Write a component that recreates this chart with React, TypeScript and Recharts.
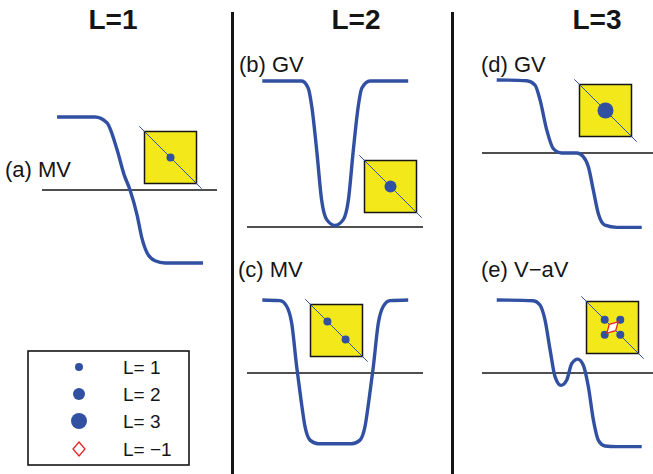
import {
  ComposedChart,
  ScatterChart,
  Line,
  Scatter,
  XAxis,
  YAxis,
  ReferenceLine,
  ReferenceArea,
} from 'recharts'

const BLUE = '#3150a2'
const YELLOW = '#f2e81a'
const RED = '#e42323'
const INK = '#151515'
const FONT = '"Liberation Sans", Arial, Helvetica, sans-serif'

// potential profiles, x in arbitrary units (0..10), V relative to the zero line
const mvAx = [0.86, 3.03, 3.71, 4.29, 4.69, 5.03, 5.43, 5.71, 6.0, 6.46, 7.03, 9.2]
const mvAv = [1.0, 1.0, 0.92, 0.55, 0.21, 0.0, -0.34, -0.66, -0.86, -0.97, -1.0, -1.0]

const gvBx = [0.87, 3.11, 3.48, 3.68, 3.96, 4.24, 4.53, 5.0, 5.47, 5.76, 6.04, 6.32, 6.52, 6.99, 9.16]
const gvBv = [2.0, 2.0, 1.9, 1.65, 1.05, 0.37, 0.1, 0.02, 0.1, 0.37, 1.05, 1.65, 1.9, 2.0, 2.0]

const mvCx = [0.87, 1.88, 2.26, 2.54, 2.82, 3.07, 3.3, 3.58, 4.05, 5.95, 6.42, 6.7, 6.93, 7.18, 7.46, 7.74, 8.12, 9.16]
const mvCv = [1.0, 0.99, 0.91, 0.68, 0.09, -0.37, -0.74, -0.92, -0.97, -0.97, -0.92, -0.74, -0.37, 0.09, 0.68, 0.91, 0.99, 1.0]

const gvDx = [0.86, 2.61, 3.1, 3.39, 3.78, 4.17, 4.66, 5.54, 5.92, 6.22, 6.51, 6.8, 7.19, 7.88, 9.34]
const gvDv = [1.0, 0.99, 0.93, 0.73, 0.32, 0.06, 0.0, 0.0, -0.05, -0.19, -0.51, -0.83, -0.99, -1.02, -1.02]

const vavEx = [0.86, 3.0, 3.39, 3.68, 3.98, 4.27, 4.62, 4.95, 5.25, 5.6, 5.92, 6.22, 6.51, 6.8, 7.19, 7.88, 9.34]
const vavEv = [1.0, 0.99, 0.93, 0.73, 0.32, -0.05, -0.17, -0.1, 0.13, 0.19, 0.11, -0.19, -0.64, -0.92, -1.0, -1.01, -1.01]

// vortices inside each inset square (coords -1..1), l = winding number
const insetA = [{ x: 0, y: 0, l: 1 }]
const insetB = [{ x: 0, y: 0, l: 2 }]
const insetC = [
  { x: -0.35, y: 0.35, l: 1 },
  { x: 0.35, y: -0.35, l: 1 },
]
const insetD = [{ x: 0, y: 0, l: 3 }]
const insetE = [
  { x: -0.3, y: 0.3, l: 1 },
  { x: 0.3, y: 0.3, l: 1 },
  { x: -0.3, y: -0.28, l: 1 },
  { x: 0.3, y: -0.28, l: 1 },
  { x: 0, y: 0, l: -1 },
]

const legendLabels = ['L= 1', 'L= 2', 'L= 3', 'L= \u22121']
const legendWinding = [1, 2, 3, -1]

const radiusFor = (l: number) => (l === 3 ? 8 : l === 2 ? 6 : 4)

const toRows = (xs: number[], vs: number[]) => xs.map((x, i) => ({ x, v: vs[i] }))

const PX_PER_UNIT = 73

interface PanelProps {
  xs: number[]
  vs: number[]
  left: number
  right: number
  zeroY: number
  yMin: number
  yMax: number
}

function Panel({ xs, vs, left, right, zeroY, yMin, yMax }: PanelProps) {
  const pad = 4
  const height = (yMax - yMin) * PX_PER_UNIT
  const top = zeroY - yMax * PX_PER_UNIT
  return (
    <div style={{ position: 'absolute', left: left - pad, top }}>
      <ComposedChart
        width={right - left + 2 * pad}
        height={height}
        data={toRows(xs, vs)}
        margin={{ top: 0, right: pad, bottom: 0, left: pad }}
      >
        <XAxis type="number" dataKey="x" domain={[0, 10]} hide />
        <YAxis type="number" domain={[yMin, yMax]} hide />
        <ReferenceLine y={0} stroke={INK} strokeWidth={1.6} />
        <Line
          type="monotone"
          dataKey="v"
          stroke={BLUE}
          strokeWidth={3.4}
          dot={false}
          isAnimationActive={false}
        />
      </ComposedChart>
    </div>
  )
}

const renderVortex = (props: any) => {
  const { cx, cy, payload } = props
  if (payload.l < 0) {
    // antivortex: outlined diamond tilted across the diagonal
    return (
      <g transform={`translate(${cx},${cy}) rotate(45)`}>
        <polygon points="0,-8 4.5,0 0,8 -4.5,0" fill="#fff" stroke={RED} strokeWidth={1.3} />
      </g>
    )
  }
  return <circle cx={cx} cy={cy} r={radiusFor(payload.l)} fill={BLUE} />
}

function Inset({ cx, cy, dots }: { cx: number; cy: number; dots: { x: number; y: number; l: number }[] }) {
  const size = 65
  return (
    <div style={{ position: 'absolute', left: cx - size / 2, top: cy - size / 2 }}>
      <ScatterChart width={size} height={size} margin={{ top: 0, right: 0, bottom: 0, left: 0 }}>
        <XAxis type="number" dataKey="x" domain={[-1.25, 1.25]} hide />
        <YAxis type="number" dataKey="y" domain={[-1.25, 1.25]} hide />
        <ReferenceArea x1={-1} x2={1} y1={-1} y2={1} fill={YELLOW} fillOpacity={1} stroke={INK} strokeWidth={1.5} />
        <ReferenceLine
          segment={[
            { x: -1.2, y: 1.2 },
            { x: 1.2, y: -1.2 },
          ]}
          stroke={BLUE}
          strokeWidth={1}
        />
        <Scatter data={dots} shape={renderVortex} isAnimationActive={false} />
      </ScatterChart>
    </div>
  )
}

function LegendBox() {
  const rows = [367, 394, 421, 449]
  return (
    <svg
      width={164}
      height={117}
      style={{ position: 'absolute', left: 27, top: 350 }}
    >
      <rect x={1} y={1} width={161} height={114} fill="#fff" stroke={INK} strokeWidth={1.6} />
      {legendLabels.map((label, i) => {
        const y = rows[i] - 350
        const l = legendWinding[i]
        return (
          <g key={label}>
            {l > 0 ? (
              <circle cx={52} cy={y} r={radiusFor(l)} fill={BLUE} />
            ) : (
              <polygon
                points={`52,${y - 7} 58,${y} 52,${y + 7} 46,${y}`}
                fill="#fff"
                stroke={RED}
                strokeWidth={1.3}
              />
            )}
            <text x={96} y={y + 6.5} fontSize={19} fontFamily={FONT} fill={INK}>
              {label}
            </text>
          </g>
        )
      })}
    </svg>
  )
}

export default function App() {
  return (
    <div
      style={{
        position: 'absolute',
        left: 0,
        top: 0,
        width: 653,
        height: 474,
        background: '#fff',
        overflow: 'hidden',
      }}
    >
      <svg width={653} height={474} style={{ position: 'absolute', left: 0, top: 0 }}>
        <rect x={231} y={12} width={3} height={462} fill={INK} />
        <rect x={451} y={12} width={3} height={462} fill={INK} />
        <g fontFamily={FONT} fontWeight="bold" fontSize={28} fill={INK} textAnchor="middle">
          <text x={113} y={29}>L=1</text>
          <text x={356} y={29}>L=2</text>
          <text x={597} y={29}>L=3</text>
        </g>
        <g fontFamily={FONT} fontSize={22} fill={INK}>
          <text x={5} y={177}>(a) MV</text>
          <text x={239} y={72}>(b) GV</text>
          <text x={238} y={277}>(c) MV</text>
          <text x={481} y={72}>(d) GV</text>
          <text x={481} y={277}>(e) V{'\u2212'}aV</text>
        </g>
      </svg>

      <Panel xs={mvAx} vs={mvAv} left={42} right={217} zeroY={190} yMin={-1.15} yMax={1.15} />
      <Panel xs={gvBx} vs={gvBv} left={247} right={423} zeroY={227} yMin={-0.15} yMax={2.15} />
      <Panel xs={mvCx} vs={mvCv} left={247} right={423} zeroY={373} yMin={-1.15} yMax={1.15} />
      <Panel xs={gvDx} vs={gvDv} left={482} right={653} zeroY={153} yMin={-1.15} yMax={1.15} />
      <Panel xs={vavEx} vs={vavEv} left={482} right={653} zeroY={373} yMin={-1.15} yMax={1.15} />

      <Inset cx={170.5} cy={157.5} dots={insetA} />
      <Inset cx={390} cy={186.5} dots={insetB} />
      <Inset cx={336} cy={330} dots={insetC} />
      <Inset cx={605} cy={110} dots={insetD} />
      <Inset cx={612.5} cy={327} dots={insetE} />

      <LegendBox />
    </div>
  )
}
